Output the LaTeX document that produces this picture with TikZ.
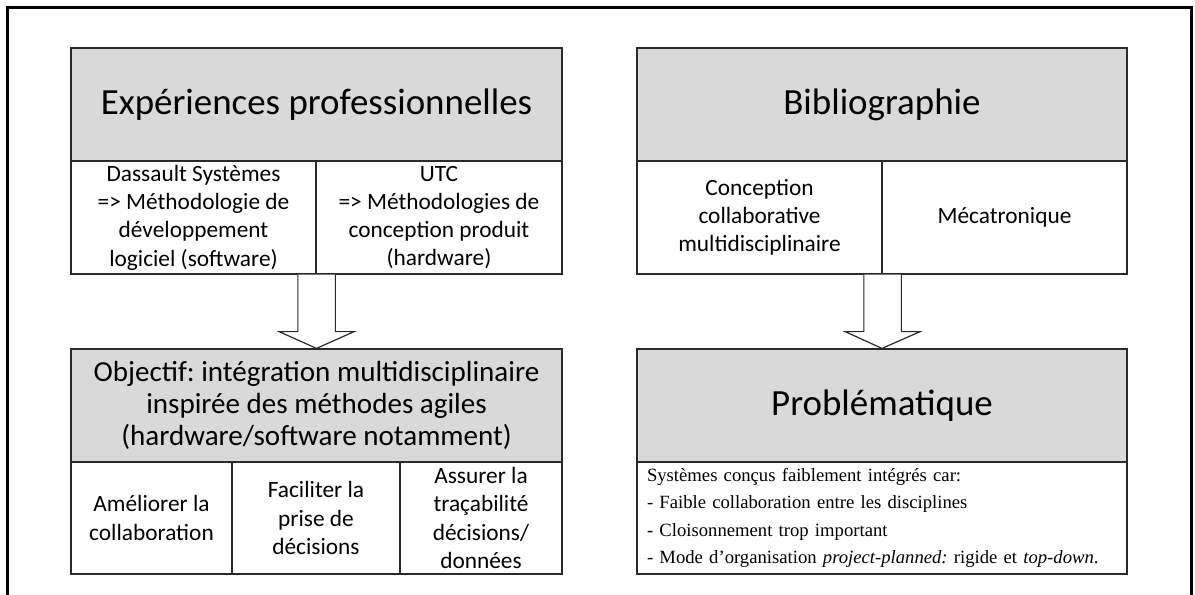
\documentclass[tikz,border=0pt]{standalone}
\usepackage{fontspec}
\setmainfont{Carlito}
\newfontfamily\timesfont{Liberation Serif}
\usetikzlibrary{calc}
\definecolor{boxgray}{HTML}{D9D9D9}
\definecolor{edge}{HTML}{2A2A2A}
\tikzset{
  sz/.style 2 args={rectangle, inner sep=0pt, minimum width=#1*0.75pt, minimum height=#2*0.75pt},
  head/.style={draw=edge, line width=0.9pt, fill=boxgray, align=center},
  cell/.style={draw=edge, line width=0.9pt, fill=white, align=center},
  bigtitle/.style={font=\fontsize{27.7}{33}\selectfont},
  celltext/.style={font=\fontsize{17.5}{21.2}\selectfont},
  objtext/.style={font=\fontsize{21.8}{23.8}\selectfont},
  bigarrow/.style={draw=edge, line width=0.9pt, fill=white, line join=miter},
  frame/.style={draw=black, line width=2pt}
}
\begin{document}
\frenchspacing
\begin{tikzpicture}[x=0.75pt,y=-0.75pt]
\useasboundingbox (0,0) rectangle (1195,594);
\draw[frame] (7.5,596) -- (7.5,7.5) -- (1191.5,7.5) -- (1191.5,596);

% top left
\node[head, sz={491}{113}, bigtitle] (exp) at (316.5,104.5) {Expériences professionnelles};
\node[cell, sz={245}{113}, celltext] (dass) at (193.5,217.5) {Dassault Systèmes\\=> Méthodologie de\\développement\\logiciel (software)};
\node[cell, sz={246}{113}, celltext] (utc) at (439,217.5) {UTC\\=> Méthodologies de\\conception produit\\(hardware)};

% top right
\node[head, sz={490}{113}, bigtitle] (bib) at (882,104.5) {Bibliographie};
\node[cell, sz={245}{113}, celltext] (concep) at (759.5,217.5) {Conception\\collaborative\\multidisciplinaire};
\node[cell, sz={245}{113}, celltext] (meca) at (1004.5,217.5) {Mécatronique};

% bottom left
\node[head, sz={491}{113}, objtext] (obj) at (316.5,405.5) {Objectif: intégration multidisciplinaire\\inspirée des méthodes agiles\\(hardware/software notamment)};
\node[cell, sz={161}{112}, celltext] (amel) at (151.5,518) {Améliorer la\\collaboration};
\node[cell, sz={168}{112}, celltext] (facil) at (316,518) {Faciliter la\\prise de\\décisions};
\node[cell, sz={162}{112}, celltext] (assur) at (481,518) {Assurer la\\traçabilité\\décisions/\\données};

% bottom right
\node[head, sz={490}{113}, bigtitle] (prob) at (882,405.5) {Problématique};
\node[draw=edge, line width=0.9pt, fill=white, sz={490}{112}, text width=470*0.75pt, align=left,
      font=\timesfont\fontsize{14}{20.6}\selectfont] (list) at (882,518)
  {Systèmes conçus faiblement intégrés car:\\
   - Faible collaboration entre les disciplines\\
   - Cloisonnement trop important\\
   - Mode d’organisation \textit{project-planned:} rigide et \textit{top-down}.};

% arrows
\draw[bigarrow] ($(dass.south east)+(-18.75,0)$) -- ++(0,57) -- ++(-18.75,0) -- (obj.north)
  -- ($(dass.south east)+(37.5,57)$) -- ++(-18.75,0) -- ($(dass.south east)+(18.75,0)$);
\draw[bigarrow] ($(concep.south east)+(-18.75,0)$) -- ++(0,57) -- ++(-18.75,0) -- (prob.north)
  -- ($(concep.south east)+(37.5,57)$) -- ++(-18.75,0) -- ($(concep.south east)+(18.75,0)$);
\end{tikzpicture}
\end{document}
